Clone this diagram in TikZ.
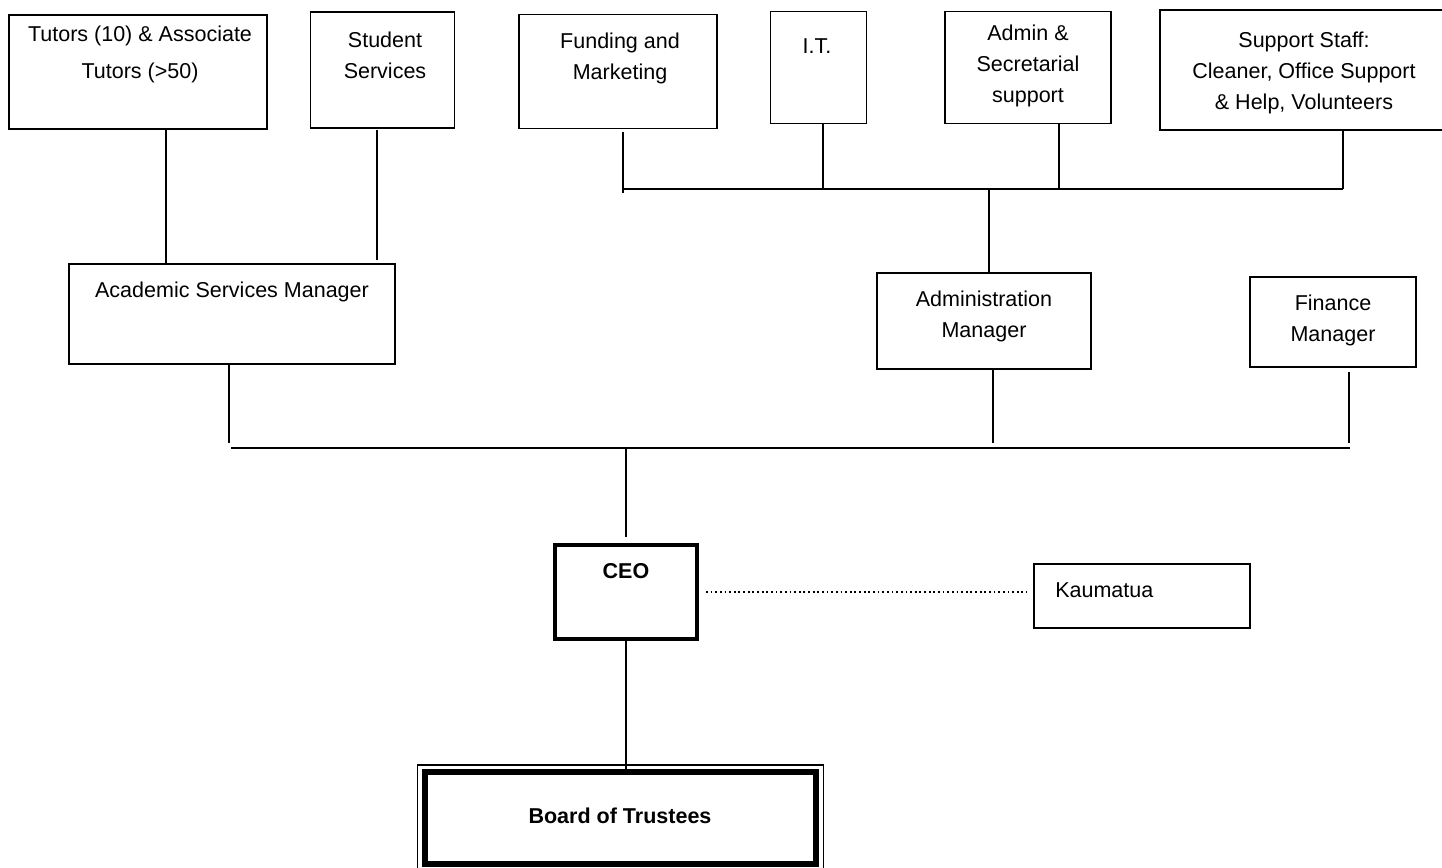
\documentclass[tikz,border=0pt]{standalone}
\usepackage{fontspec}
\setmainfont{Liberation Sans}
\tikzset{
  box/.style={draw=black, line width=1.1pt, inner sep=0pt, outer sep=0pt, fill=none},
  lbl/.style={inner sep=0pt, align=center, anchor=north, font=\fontsize{15.3}{22}\selectfont},
  link/.style={draw=black, line width=1.1pt},
  dots/.style={draw=black, line width=1.2pt, dash pattern=on 1.3pt off 2pt},
}
\begin{document}
\begin{tikzpicture}[x=0.25mm,y=-0.25mm]
\useasboundingbox (0,0) rectangle (1442,867);
% top row
\node [box, minimum width=64.6mm, minimum height=28.6mm] (tutors) at (138,72) {};
\node [box, minimum width=35.9mm, minimum height=29.1mm] (student) at (382.5,70) {};
\node [box, minimum width=49.6mm, minimum height=28.4mm] (funding) at (618,71.5) {};
\node [box, minimum width=23.9mm, minimum height=27.9mm] (it) at (818.5,67.5) {};
\node [box, minimum width=41.6mm, minimum height=27.9mm] (admin) at (1028,67.5) {};
\node [box, minimum width=72.1mm, minimum height=30.1mm] (support) at (1304,70) {};
\node [lbl] (tutors-t) at (140,26) {Tutors (10) \& Associate\\[4.3pt]Tutors (>50)};
\node [lbl] (student-t) at (385,32) {Student\\Services};
\node [lbl] (funding-t) at (620,33) {Funding and\\Marketing};
\node [lbl] (it-t) at (817,38) {I.T.};
\node [lbl] (admin-t) at (1028,25) {Admin \&\\Secretarial\\support};
\node [lbl] (support-t) at (1304,32) {Support Staff:\\Cleaner, Office Support\\\& Help, Volunteers};
% managers
\node [box, minimum width=81.6mm, minimum height=25.1mm] (academic) at (232,314) {};
\node [box, minimum width=53.6mm, minimum height=24.1mm] (adminmgr) at (984,321) {};
\node [box, minimum width=41.6mm, minimum height=22.6mm] (finance) at (1333,322) {};
\node [lbl] (academic-t) at (232,282) {Academic Services Manager};
\node [lbl] (adminmgr-t) at (984,291) {Administration\\Manager};
\node [lbl] (finance-t) at (1333,295) {Finance\\Manager};
% ceo, kaumatua, board
\node [box, line width=2.85pt, minimum width=35.5mm, minimum height=23.5mm] (ceo) at (626,592) {};
\node [box, minimum width=54.1mm, minimum height=16.1mm] (kaumatua) at (1142,596) {};
\node [box, line width=4.3pt, minimum width=97.9mm, minimum height=23.1mm] (board) at (620.5,818) {};
\draw [line width=1.1pt] ([shift={(-7,-7)}]board.north west) rectangle ([shift={(7,7)}]board.south east);
\node [lbl] (ceo-t) at (626,563) {\textbf{CEO}};
\node [lbl, anchor=north west] (kaumatua-t) at (1055,582) {Kaumatua};
\node [lbl] (board-t) at (620,808) {\textbf{Board of Trustees}};
% connectors, top
\draw [link] (tutors.south -| 166,0) -- (academic.north -| 166,0);
\draw [link] ([yshift=-0.5mm]student.south -| 377,0) -- ([yshift=1mm]academic.north -| 377,0);
\coordinate (tb-w) at (623,189);
\coordinate (tb-e) at (1343,189);
\draw [link] (tb-w) -- (tb-e);
\draw [link] ([yshift=-1mm]funding.south -| tb-w) -- ([yshift=-1mm]tb-w);
\draw [link] (it.south -| 823,0) -- (tb-w -| 823,0);
\draw [link] (admin.south -| 1059,0) -- (tb-w -| 1059,0);
\draw [link] (support.south -| tb-e) -- (tb-e);
\draw [link] (tb-w -| 989,0) -- (adminmgr.north -| 989,0);
% connectors, bottom
\coordinate (bb-w) at (231,448);
\coordinate (bb-e) at (1350,448);
\draw [link] (bb-w) -- (bb-e);
\draw [link] (academic.south -| 229,0) -- ([yshift=1.25mm]bb-w -| 229,0);
\draw [link] (adminmgr.south -| 993,0) -- ([yshift=1.25mm]bb-w -| 993,0);
\draw [link] ([yshift=-1.25mm]finance.south -| 1349,0) -- ([yshift=1.25mm]bb-w -| 1349,0);
\draw [link] (ceo.north |- bb-w) -- ([yshift=2mm]ceo.north);
\draw [link] (ceo.south) -- (ceo.south |- board.north);
\draw [dots] ([xshift=2.25mm]ceo.east) -- ([xshift=-1.7mm]ceo.east -| kaumatua.west);
\end{tikzpicture}
\end{document}
